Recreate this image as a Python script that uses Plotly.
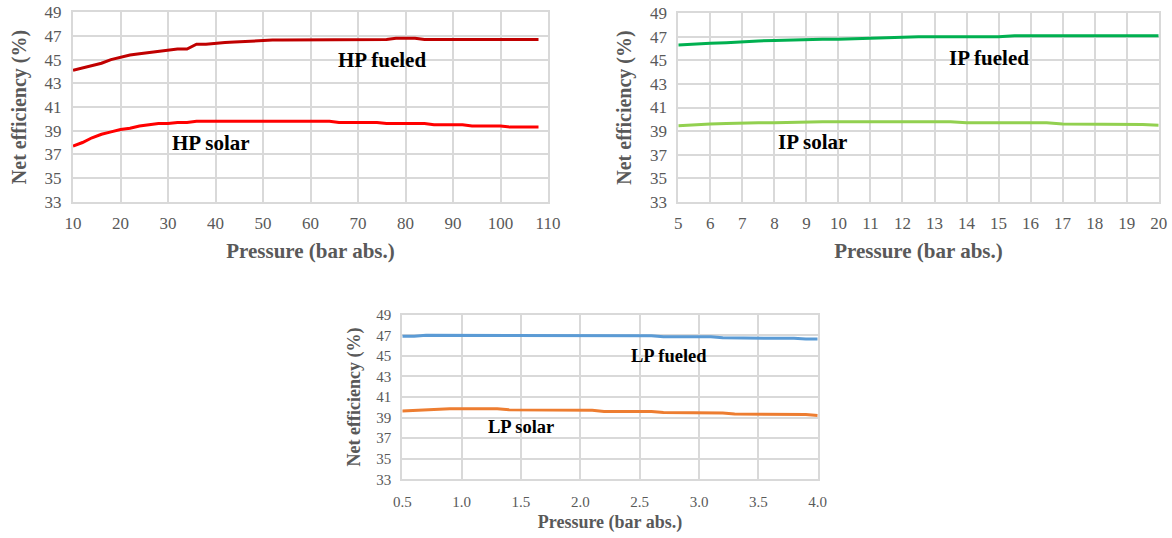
import plotly.graph_objects as go

# ---------------- data ----------------
hp_pressure = list(range(10, 110, 2))
hp_fueled = [44.1, 44.3, 44.5, 44.7, 45.0, 45.2, 45.4, 45.5, 45.6, 45.7,
             45.8, 45.9, 45.9, 46.3, 46.3, 46.4, 46.45, 46.5, 46.55, 46.6,
             46.6, 46.65, 46.65, 46.65, 46.7, 46.7, 46.7, 46.7, 46.7, 46.7,
             46.7, 46.7, 46.7, 46.7, 46.8, 46.8, 46.8, 46.7, 46.7, 46.7,
             46.7, 46.7, 46.7, 46.7, 46.7, 46.7, 46.7, 46.7, 46.7, 46.7]
hp_solar = [37.7, 38.0, 38.4, 38.7, 38.9, 39.1, 39.2, 39.4, 39.5, 39.6,
            39.6, 39.7, 39.7, 39.8, 39.8, 39.8, 39.8, 39.8, 39.8, 39.8,
            39.8, 39.8, 39.8, 39.8, 39.8, 39.8, 39.8, 39.8, 39.7, 39.7,
            39.7, 39.7, 39.7, 39.6, 39.6, 39.6, 39.6, 39.6, 39.5, 39.5,
            39.5, 39.5, 39.4, 39.4, 39.4, 39.4, 39.3, 39.3, 39.3, 39.3]

ip_pressure = [5 + 0.5 * i for i in range(31)]
ip_fueled = [46.3, 46.4, 46.45, 46.5, 46.6, 46.65, 46.7, 46.75, 46.8, 46.8,
             46.8, 46.85, 46.9, 46.9, 47.0, 47.0, 47.0, 47.0, 47.0, 47.0,
             47.0, 47.1, 47.1, 47.1, 47.1, 47.1, 47.1, 47.1, 47.1, 47.1, 47.1]
ip_solar = [39.45, 39.55, 39.6, 39.65, 39.7, 39.7, 39.7, 39.75, 39.8, 39.8,
            39.8, 39.8, 39.8, 39.8, 39.8, 39.8, 39.8, 39.8, 39.7, 39.7,
            39.7, 39.7, 39.7, 39.7, 39.6, 39.6, 39.6, 39.6, 39.6, 39.55, 39.5]

lp_pressure = [0.5 + 0.1 * i for i in range(36)]
lp_fueled = [46.9, 46.9, 47.0, 47.0, 47.0, 47.0, 47.0, 47.0, 47.0, 47.0,
             47.0, 47.0, 47.0, 47.0, 47.0, 46.95, 46.95, 46.95, 46.95, 46.95,
             46.95, 46.95, 46.85, 46.85, 46.85, 46.85, 46.85, 46.75, 46.75, 46.75,
             46.75, 46.75, 46.75, 46.7, 46.65, 46.65]
lp_solar = [39.65, 39.7, 39.75, 39.85, 39.85, 39.85, 39.85, 39.85, 39.85, 39.75,
            39.75, 39.75, 39.75, 39.7, 39.7, 39.7, 39.7, 39.6, 39.6, 39.6,
            39.6, 39.6, 39.5, 39.5, 39.5, 39.45, 39.45, 39.45, 39.35, 39.35,
            39.35, 39.35, 39.3, 39.3, 39.3, 39.2]

y_ticks = [33, 35, 37, 39, 41, 43, 45, 47, 49]
hp_ticks = list(range(10, 111, 10))
ip_ticks = list(range(5, 21))
lp_ticks = [0.5, 1.0, 1.5, 2.0, 2.5, 3.0, 3.5, 4.0]

# ---------------- figure ----------------
W, H = 1172, 538
FONT = "Liberation Serif"
GREY = "#595959"
GRID = "#d9d9d9"

fig = go.Figure()

def add_line(x, y, color, xa, ya):
    fig.add_trace(go.Scatter(x=x, y=y, mode="lines", xaxis=xa, yaxis=ya,
                             line=dict(color=color, width=3), showlegend=False,
                             hoverinfo="skip"))

add_line(hp_pressure, hp_fueled, "#c00000", "x", "y")
add_line(hp_pressure, hp_solar, "#ff0000", "x", "y")
add_line(ip_pressure, ip_fueled, "#00b050", "x2", "y2")
add_line(ip_pressure, ip_solar, "#92d050", "x2", "y2")
add_line(lp_pressure, lp_fueled, "#5b9bd5", "x3", "y3")
add_line(lp_pressure, lp_solar, "#ed7d31", "x3", "y3")

def px_x(a, b):
    return [a / W, b / W]

def px_y(top, bottom):
    return [1 - bottom / H, 1 - top / H]

def xaxis(domain, anchor, rng, ticks, fmt, tsize, tisize, standoff, lstand):
    return dict(domain=domain, anchor=anchor, range=rng, tickvals=ticks,
                tickformat=fmt, showgrid=True, gridcolor=GRID, gridwidth=2,
                showline=True, linecolor=GRID, linewidth=2, mirror=True,
                zeroline=False, ticks="", ticklabelstandoff=lstand,
                tickfont=dict(family=FONT, size=tsize, color=GREY),
                title=dict(text="<b>Pressure (bar abs.)</b>", standoff=standoff,
                           font=dict(family=FONT, size=tisize, color=GREY)),
                automargin=False, fixedrange=True)

def yaxis(domain, anchor, tsize, tisize, standoff):
    return dict(domain=domain, anchor=anchor, range=[33, 49], tickvals=y_ticks,
                showgrid=True, gridcolor=GRID, gridwidth=2,
                showline=True, linecolor=GRID, linewidth=2, mirror=True,
                zeroline=False, ticks="", ticklabelstandoff=6,
                tickfont=dict(family=FONT, size=tsize, color=GREY),
                title=dict(text="<b>Net efficiency (%)</b>", standoff=standoff,
                           font=dict(family=FONT, size=tisize, color=GREY)),
                automargin=False, fixedrange=True)

fig.update_layout(
    width=W, height=H,
    margin=dict(l=0, r=0, t=0, b=0),
    paper_bgcolor="white", plot_bgcolor="white",
    showlegend=False,
    xaxis=xaxis(px_x(73, 548), "y", [10, 110], hp_ticks, "d", 17, 21, 11, 5),
    yaxis=yaxis(px_y(12.3, 201.7), "x", 17, 20, 13),
    xaxis2=xaxis(px_x(678.3, 1158.7), "y2", [5, 20], ip_ticks, "d", 17, 21, 11, 5),
    yaxis2=yaxis(px_y(13.3, 201.7), "x2", 17, 20, 13),
    xaxis3=xaxis(px_x(402.3, 817.7), "y3", [0.5, 4.0], lp_ticks, ".1f", 15, 18, 6, 8),
    yaxis3=yaxis(px_y(314.7, 479.3), "x3", 15, 18, 11),
)

def label(text, x, y, xref, yref, size):
    fig.add_annotation(text="<b>" + text + "</b>", x=x, y=y, xref=xref, yref=yref,
                       showarrow=False, font=dict(family=FONT, size=size, color="black"))

label("HP fueled", 75, 45, "x", "y", 21)
label("HP solar", 39, 38, "x", "y", 21)
label("IP fueled", 14.7, 45.2, "x2", "y2", 21)
label("IP solar", 9.2, 38.1, "x2", "y2", 21)
label("LP fueled", 2.75, 45.0, "x3", "y3", 18.5)
label("LP solar", 1.5, 38.1, "x3", "y3", 18.5)

fig.write_html("out.html", post_script="document.body.style.margin='0px';",
               config={"displayModeBar": False, "staticPlot": True})
